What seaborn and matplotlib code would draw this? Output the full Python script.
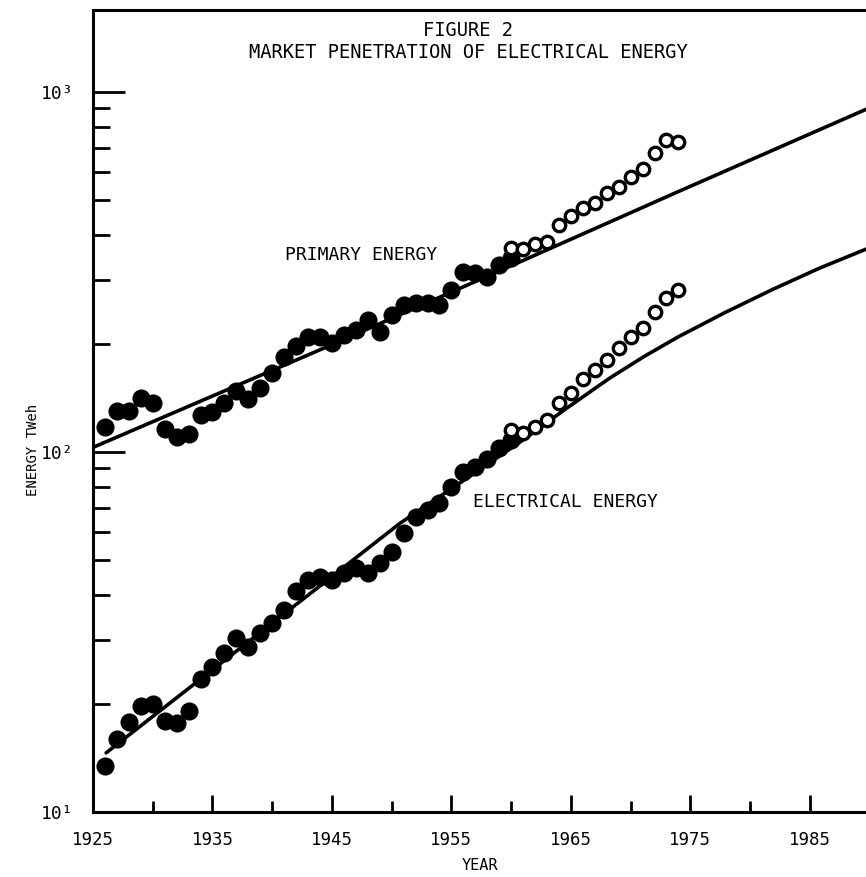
import numpy as np
import pandas as pd
import matplotlib
matplotlib.use("Agg")
import matplotlib.pyplot as plt
import seaborn as sns

# ---------------- data ----------------
years_hist = list(range(1926, 1961))          # filled circles
primary_hist = [117, 130, 130, 141, 137, 116, 110, 112, 127, 129,
                137, 148, 140, 151, 166, 184, 197, 208, 209, 201,
                211, 218, 232, 216, 240, 256, 260, 260, 256, 282,
                317, 314, 307, 331, 346]
electrical_hist = [13.4, 16.0, 17.8, 19.7, 19.9, 17.9, 17.7, 19.1, 23.4, 25.3,
                   27.7, 30.5, 28.8, 31.4, 33.4, 36.5, 41.2, 44.1, 45.0, 44.1,
                   46.2, 47.5, 46.0, 49.1, 52.8, 59.4, 66.1, 69.0, 72.0, 80.1,
                   88.1, 91.0, 95.5, 102.4, 108]

years_recent = list(range(1960, 1975))        # open circles
primary_recent = [368, 366, 378, 384, 428, 451, 475, 493, 523, 546,
                  582, 610, 678, 736, 728]
electrical_recent = [115, 113, 117.5, 123, 136.5, 146, 159, 169, 180, 194,
                     209, 221, 245, 267, 282]

# trend lines
trend_primary_years = [1925, 1944.9, 1959.9, 1974.0, 1989.7]
trend_primary_vals = [103, 198, 328, 529, 895]
trend_elec_years = [1926.1, 1943.2, 1950.7, 1957.1, 1961.0, 1964.6, 1968.2,
                    1971.1, 1974.0, 1977.9, 1981.9, 1985.8, 1989.7]
trend_elec_vals = [14.6, 40.5, 63.4, 88.1, 108, 132, 160,
                   184, 209, 244, 283, 324, 366]

x_major = [1925, 1935, 1945, 1955, 1965, 1975, 1985]
x_minor = [1930, 1940, 1950, 1960, 1970, 1980]
y_major = [10, 100, 1000]
y_major_labels = ["10¹", "10²", "10³"]

# ---------------- figure ----------------
sns.set_style("ticks")
plt.rcParams["font.family"] = ["DejaVu Sans Mono", "DejaVu Sans"]
plt.rcParams["text.color"] = "black"
plt.rcParams["xtick.color"] = "black"
plt.rcParams["ytick.color"] = "black"
plt.rcParams["axes.labelcolor"] = "black"

fig = plt.figure(figsize=(8.66, 8.77), dpi=100)
ax = fig.add_axes([93 / 866, 1 - 812 / 877, (866 - 93) / 866, (812 - 10) / 877])

hist = pd.DataFrame({
    "year": years_hist * 2,
    "value": primary_hist + electrical_hist,
    "series": ["primary"] * len(years_hist) + ["electrical"] * len(years_hist),
})
recent = pd.DataFrame({
    "year": years_recent * 2,
    "value": primary_recent + electrical_recent,
    "series": ["primary"] * len(years_recent) + ["electrical"] * len(years_recent),
})
tp = pd.DataFrame({"year": trend_primary_years, "value": trend_primary_vals})
te = pd.DataFrame({"year": trend_elec_years, "value": trend_elec_vals})

ax.set_yscale("log")

sns.lineplot(data=tp, x="year", y="value", ax=ax, color="black", lw=2.6,
             estimator=None, sort=True, legend=False)
sns.lineplot(data=te, x="year", y="value", ax=ax, color="black", lw=2.6,
             estimator=None, sort=True, legend=False)

sns.scatterplot(data=hist, x="year", y="value", ax=ax, color="black",
                s=170, edgecolor="black", linewidth=0, legend=False, zorder=3)
sns.scatterplot(data=recent, x="year", y="value", ax=ax, facecolor="white",
                s=80, edgecolor="black", linewidth=2.4, legend=False, zorder=4)

ax.set_xlim(1925, 1989.7)
ax.set_ylim(10, 10 ** (3 + 82 / 360))

# ticks
ax.set_xticks(x_major)
ax.set_xticks(x_minor, minor=True)
ax.set_xticklabels([str(v) for v in x_major], fontsize=12.5)
ax.set_yticks(y_major)
ax.set_yticklabels(y_major_labels, fontsize=13)
ax.yaxis.set_minor_locator(matplotlib.ticker.LogLocator(base=10, subs=np.arange(2, 10)))
ax.yaxis.set_minor_formatter(matplotlib.ticker.NullFormatter())

ax.tick_params(axis="x", which="major", direction="in", length=12, width=2, pad=14)
ax.tick_params(axis="x", which="minor", direction="in", length=8, width=2)
ax.tick_params(axis="y", which="major", direction="in", length=23, width=2, pad=14)
ax.tick_params(axis="y", which="minor", direction="in", length=12, width=2)

for side in ["left", "bottom", "top"]:
    ax.spines[side].set_linewidth(2.2)
    ax.spines[side].set_color("black")
ax.spines["right"].set_visible(False)

ax.set_xlabel("")
ax.set_ylabel("")

# labels
ax.text(1941.1, 352, "PRIMARY ENERGY", fontsize=13, ha="left", va="center")
ax.text(1956.8, 72.6, "ELECTRICAL ENERGY", fontsize=13, ha="left", va="center")

fig.text(468 / 866, 1 - 30 / 877, "FIGURE 2", fontsize=13.5, ha="center", va="center")
fig.text(468 / 866, 1 - 53 / 877, "MARKET PENETRATION OF ELECTRICAL ENERGY",
         fontsize=13.5, ha="center", va="center")
fig.text(33 / 866, 1 - 450 / 877, "ENERGY TWeh", fontsize=10, rotation=90,
         ha="center", va="center")
fig.text(480 / 866, 1 - 866 / 877, "YEAR", fontsize=11, ha="center", va="center")

fig.savefig("out.png", dpi=100, facecolor="white")
